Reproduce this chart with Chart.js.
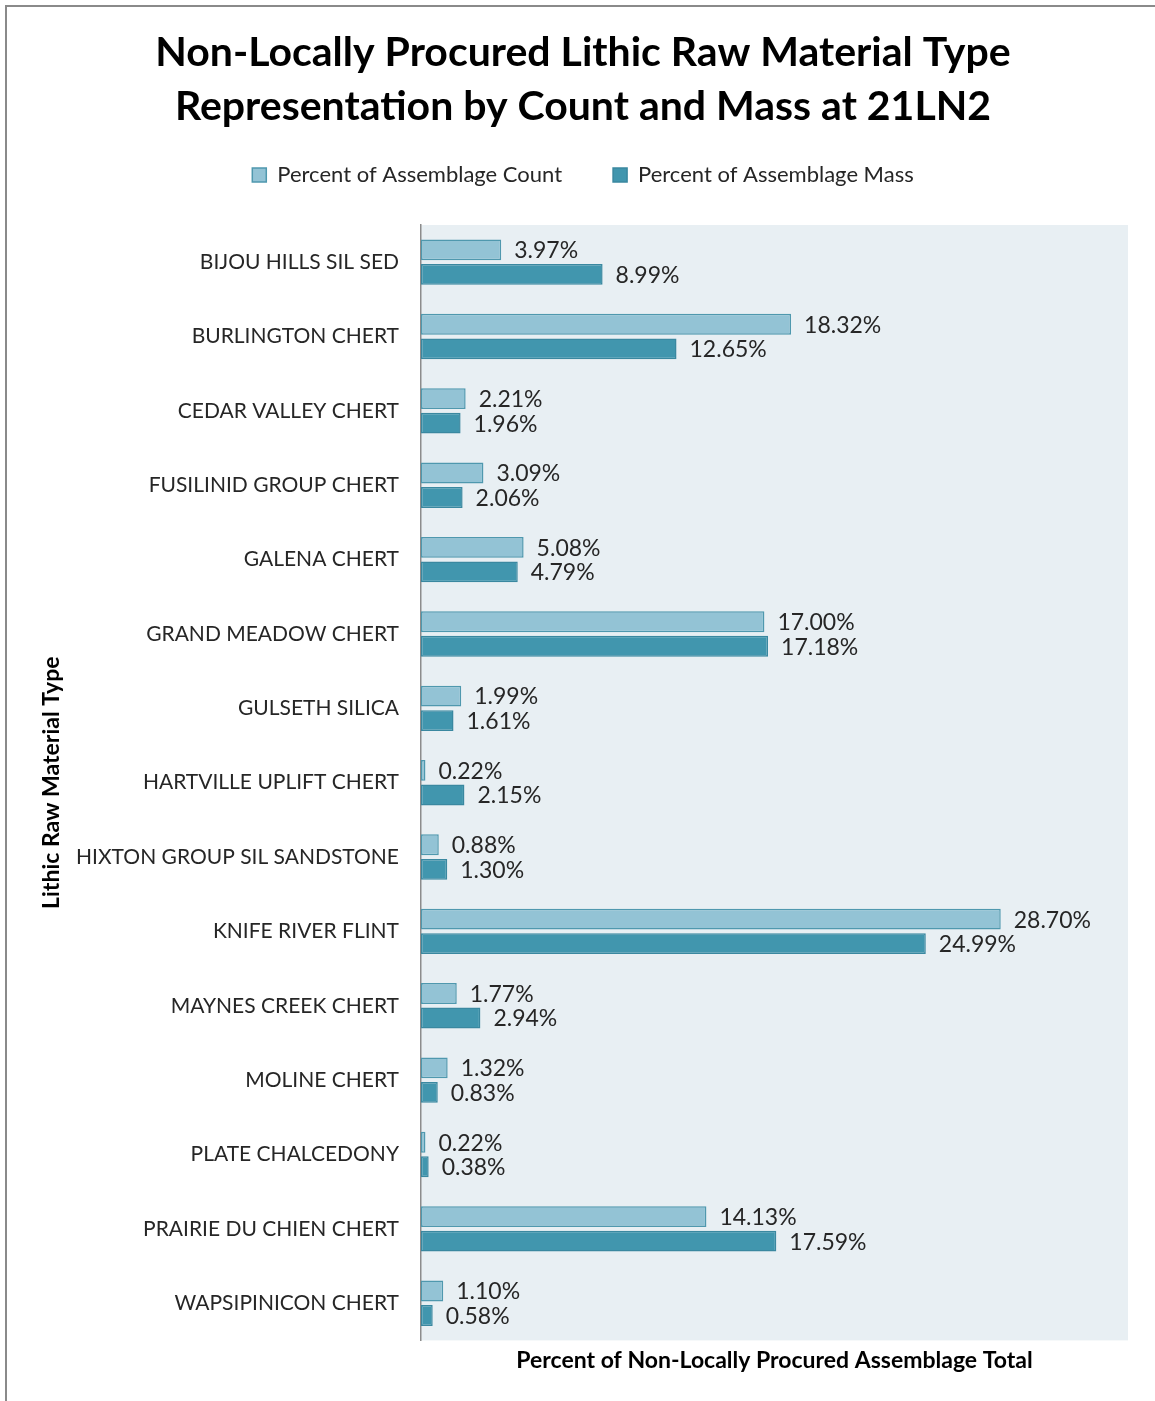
<!DOCTYPE html>
<html>
<head>
<meta charset="utf-8">
<script src="https://cdn.jsdelivr.net/npm/chart.js@4.4.1/dist/chart.umd.min.js"></script>
<style>
  html, body { margin: 0; padding: 0; background: #ffffff; }
  #wrap { width: 1155px; height: 1401px; position: relative; }
</style>
</head>
<body>
<div id="wrap"><canvas id="lithicChart" width="1155" height="1401"></canvas></div>
<script>
// Raw material types and their share of the non-local assemblage (%)
const materials = [
    'BIJOU HILLS SIL SED', 'BURLINGTON CHERT', 'CEDAR VALLEY CHERT', 'FUSILINID GROUP CHERT',
    'GALENA CHERT', 'GRAND MEADOW CHERT', 'GULSETH SILICA', 'HARTVILLE UPLIFT CHERT',
    'HIXTON GROUP SIL SANDSTONE', 'KNIFE RIVER FLINT', 'MAYNES CREEK CHERT', 'MOLINE CHERT',
    'PLATE CHALCEDONY', 'PRAIRIE DU CHIEN CHERT', 'WAPSIPINICON CHERT'
];
const countPercent = [3.97, 18.32, 2.21, 3.09, 5.08, 17.00, 1.99, 0.22, 0.88, 28.70, 1.77, 1.32, 0.22, 14.13, 1.10];
const massPercent = [8.99, 12.65, 1.96, 2.06, 4.79, 17.18, 1.61, 2.15, 1.30, 24.99, 2.94, 0.83, 0.38, 17.59, 0.58];

const FONT = 'Lato, "Open Sans", sans-serif';
const PAD_LEFT = 38;

// light panel behind the bars plus the outer frame
const backdrop = {
    id: 'backdrop',
    beforeDraw(chart) {
        const ctx = chart.ctx;
        const a = chart.chartArea;
        ctx.save();
        ctx.fillStyle = '#e8eff3';
        ctx.fillRect(a.left, a.top, a.right - a.left, a.bottom - a.top);
        ctx.strokeStyle = '#8a8a8a';
        ctx.lineWidth = 2;
        ctx.strokeRect(6, 6, 1200, 1450);
        ctx.restore();
    }
};

// give the legend a fixed block height so the bars start lower
const legendHeight = {
    id: 'legendHeight',
    beforeInit(chart) {
        const legend = chart.legend;
        if (!legend) return;
        const fit = legend.fit;
        legend.fit = function() {
            fit.call(this);
            this.height = 112;
        };
    }
};

// value printed after the end of each bar
const valueLabels = {
    id: 'valueLabels',
    afterDatasetsDraw(chart) {
        const ctx = chart.ctx;
        ctx.save();
        ctx.font = '23px ' + FONT;
        ctx.fillStyle = '#262626';
        ctx.textAlign = 'left';
        ctx.textBaseline = 'middle';
        chart.data.datasets.forEach((ds, i) => {
            chart.getDatasetMeta(i).data.forEach((bar, j) => {
                ctx.fillText(ds.data[j].toFixed(2) + '%', bar.x + 13, bar.y + 1);
            });
        });
        ctx.restore();
    }
};

const ctx = document.getElementById('lithicChart').getContext('2d');
new Chart(ctx, {
    type: 'bar',
    data: {
        labels: materials,
        datasets: [{
            label: 'Percent of Assemblage Count',
            data: countPercent,
            backgroundColor: '#93c3d5',
            borderColor: '#4f98ae',
            borderWidth: 1.5,
            borderSkipped: false,
            categoryPercentage: 0.66,
            barPercentage: 0.85
        }, {
            label: 'Percent of Assemblage Mass',
            data: massPercent,
            backgroundColor: '#4196ae',
            borderColor: '#3a88a0',
            borderWidth: 1.5,
            borderSkipped: false,
            categoryPercentage: 0.66,
            barPercentage: 0.85
        }]
    },
    options: {
        indexAxis: 'y',
        responsive: false,
        animation: false,
        layout: { padding: { top: 0, right: 27, bottom: 23, left: PAD_LEFT } },
        plugins: {
            title: {
                display: true,
                text: ['Non-Locally Procured Lithic Raw Material Type', 'Representation by Count and Mass at 21LN2'],
                color: '#000000',
                font: { family: FONT, size: 41, weight: 'bold', lineHeight: 1.317 },
                padding: { top: 26, bottom: -21 }
            },
            legend: {
                display: true,
                labels: {
                    color: '#262626',
                    font: { family: FONT, size: 22 },
                    boxWidth: 14,
                    boxHeight: 14,
                    padding: 51,
                    useBorderRadius: false
                }
            },
            tooltip: { enabled: false }
        },
        scales: {
            x: {
                min: 0,
                max: 35,
                grid: { display: false, drawTicks: false },
                border: { display: false },
                ticks: { display: false },
                title: {
                    display: true,
                    text: 'Percent of Non-Locally Procured Assemblage Total',
                    color: '#000000',
                    font: { family: FONT, size: 23, weight: 'bold' },
                    padding: { top: 6, bottom: 4 }
                }
            },
            y: {
                grid: { display: false, drawTicks: false },
                border: { display: true, color: '#8c8c8c', width: 1.5 },
                ticks: {
                    color: '#262626',
                    font: { family: FONT, size: 21 },
                    padding: 22,
                    autoSkip: false
                },
                title: {
                    display: true,
                    text: 'Lithic Raw Material Type',
                    color: '#000000',
                    font: { family: FONT, size: 23, weight: 'bold' },
                    padding: { top: 0, bottom: 0 }
                },
                afterFit(scale) { scale.width = 421 - PAD_LEFT; }
            }
        }
    },
    plugins: [legendHeight, backdrop, valueLabels]
});
</script>
</body>
</html>
